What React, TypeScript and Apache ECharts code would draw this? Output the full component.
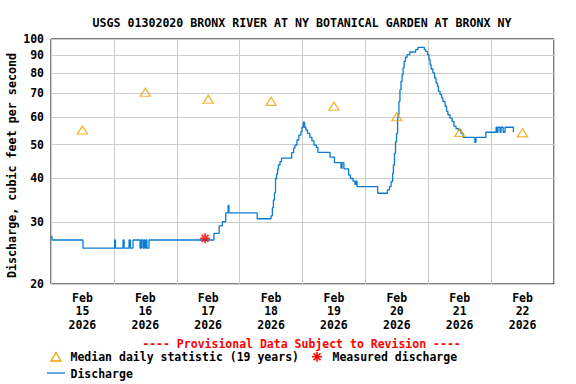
import React, { useEffect, useRef } from "react";
import * as echarts from "echarts";

// Hours since 2026-02-15 00:00 at which the 15-minute discharge changes, and the new value (ft3/s)
const dischargeHours = [
  0, 0.4, 12.2, 24.3, 24.6, 27.5, 27.9, 29.8, 30.3, 31.3, 34.0, 34.5, 35.1, 35.5, 35.9, 36.3, 36.6, 37.4,
  62.2, 64.2, 65.4, 66.7, 67.6, 67.9, 78.7, 84.0, 84.5, 84.9, 85.3, 85.7, 86.1, 86.5, 86.8, 87.4, 88.0,
  91.9, 92.6, 93.1, 93.9, 94.6, 95.4, 95.8, 96.3, 96.8, 97.3, 97.9, 98.8, 99.6, 100.4, 101.3, 101.9,
  106.5, 108.2, 110.7, 111.1, 111.8, 113.6, 114.3, 115.3, 116.0, 116.4, 116.8, 124.7, 128.4, 129.2,
  129.8, 130.4, 130.7, 131.1, 131.5, 131.9, 132.3, 132.5, 132.8, 133.2, 133.6, 134.0, 134.4, 134.8,
  135.3, 135.9, 137.0, 139.2, 140.1, 142.5, 143.0, 143.7, 144.3, 144.7, 145.1, 145.8, 146.4, 147.0,
  147.5, 147.9, 148.5, 149.1, 149.6, 150.4, 151.0, 151.5, 152.3, 153.1, 153.8, 154.6, 155.5, 156.5,
  157.3, 161.8, 162.2, 166.0, 169.9, 170.2, 170.6, 171.4, 171.8, 172.6, 173.3, 176.5,
];
const dischargeCfs = [
  27.3, 26.7, 25.3, 26.7, 25.3, 26.7, 25.3, 26.7, 25.3, 26.7, 25.3, 26.7, 25.3, 26.7, 25.3, 26.7, 25.3, 26.7,
  27.9, 29.3, 30.1, 31.9, 33.5, 31.9, 30.7, 31.3, 33.0, 34.7, 36.4, 40.0, 41.2, 42.5, 43.7, 44.7, 45.7,
  47.4, 48.8, 49.8, 51.5, 53.2, 54.4, 56.0, 57.8, 56.0, 55.0, 53.8, 52.4, 51.2, 49.8, 49.1, 47.5,
  46.0, 44.4, 42.8, 44.4, 42.6, 40.9, 40.0, 39.3, 38.5, 39.3, 37.9, 36.3, 37.1, 37.9,
  39.2, 41.4, 43.7, 47.2, 50.9, 53.8, 58.1, 60.8, 66.4, 71.7, 75.7, 79.1, 82.7, 86.4,
  88.7, 90.2, 91.8, 93.2, 94.7, 93.2, 92.2, 90.2, 87.3, 84.5, 82.1, 80.0, 77.4, 74.9,
  73.3, 70.9, 69.4, 67.9, 66.4, 64.3, 62.2, 60.8, 59.5, 58.2, 56.4, 55.5, 55.0, 53.8,
  52.4, 50.7, 52.4, 54.2, 56.0, 54.2, 56.0, 54.2, 56.0, 54.2, 56.0, 54.2,
];

// Median daily statistic (19 years), plotted at noon of each day
const medianHours = [12, 36, 60, 84, 108, 132, 156, 180];
const medianCfs = [55.0, 70.5, 67.3, 66.4, 64.3, 60.0, 54.1, 54.0];

// Measured discharge
const measuredHours = [58.8];
const measuredCfs = [27.0];

const dayLabels = [
  "Feb\n15\n2026", "Feb\n16\n2026", "Feb\n17\n2026", "Feb\n18\n2026",
  "Feb\n19\n2026", "Feb\n20\n2026", "Feb\n21\n2026", "Feb\n22\n2026",
];
const yTicks = [20, 30, 40, 50, 60, 70, 80, 90, 100];

const FONT = "'DejaVu Sans Mono', monospace";
const BLUE = "#0a7bd0";
const ORANGE = "#f5a000";
const RED = "#ff0000";

const asteriskPath =
  "path://M0,5L10,5M5,0L5,10M1.5,1.5L8.5,8.5M8.5,1.5L1.5,8.5";

export default function App() {
  const ref = useRef<HTMLDivElement>(null);

  useEffect(() => {
    if (!ref.current) return;
    const chart = echarts.init(ref.current, null, { renderer: "svg" });
    const textBase = { fontFamily: FONT, fontWeight: "bold" as const, fontSize: 11.5, color: "#000" };
    const legendFont = `bold 11.5px ${FONT}`;

    const option: any = {
      animation: false,
      backgroundColor: "#fff",
      title: {
        text: "USGS 01302020 BRONX RIVER AT NY BOTANICAL GARDEN AT BRONX NY",
        left: 297,
        textAlign: "center",
        top: 12,
        textStyle: { fontFamily: FONT, fontWeight: "bold", fontSize: 11.6, color: "#000" },
      },
      grid: {
        left: 51,
        right: 22,
        top: 39,
        bottom: 100,
        containLabel: false,
        outerBoundsMode: "none",
        show: true,
        borderColor: "#000",
        borderWidth: 1,
        backgroundColor: "#fff",
      },
      xAxis: [
        {
          type: "value",
          min: 0,
          max: 192,
          interval: 24,
          axisLabel: { show: false },
          axisTick: { show: false },
          axisLine: { show: false },
          splitLine: { show: true, lineStyle: { color: "#cccccc", width: 1 } },
        },
        {
          type: "category",
          data: dayLabels,
          boundaryGap: true,
          position: "bottom",
          axisLine: { show: false },
          axisTick: { show: false },
          splitLine: { show: false },
          axisLabel: { ...textBase, lineHeight: 13.5, margin: 7, interval: 0 },
        },
      ],
      yAxis: {
        type: "log",
        logBase: 10,
        min: 20,
        max: 100,
        name: "Discharge, cubic feet per second",
        nameLocation: "middle",
        nameGap: 33,
        nameMoveOverlap: false,
        nameRotate: 90,
        nameTextStyle: { ...textBase, fontSize: 11.7, padding: [0, 0, 0, -8] },
        axisLine: { show: false },
        axisTick: { show: false, customValues: yTicks },
        axisLabel: { ...textBase, margin: 7, customValues: yTicks },
        splitLine: { show: true, lineStyle: { color: "#cccccc", width: 1 } },
      },
      series: [
        {
          name: "Discharge",
          type: "line",
          xAxisIndex: 0,
          step: "end",
          showSymbol: false,
          symbol: "none",
          lineStyle: { color: BLUE, width: 1.3 },
          data: dischargeHours.map((h, i) => [h, dischargeCfs[i]]),
          z: 3,
        },
        {
          name: "Median daily statistic (19 years)",
          type: "scatter",
          xAxisIndex: 0,
          symbol: "triangle",
          symbolSize: [10, 8],
          itemStyle: { color: "rgba(0,0,0,0)", borderColor: ORANGE, borderWidth: 1.3 },
          data: medianHours.map((h, i) => [h, medianCfs[i]]),
          z: 4,
        },
        {
          name: "Measured discharge",
          type: "scatter",
          xAxisIndex: 0,
          symbol: asteriskPath,
          symbolSize: 10,
          itemStyle: { color: "rgba(0,0,0,0)", borderColor: RED, borderWidth: 1.8 },
          data: measuredHours.map((h, i) => [h, measuredCfs[i]]),
          z: 5,
        },
      ],
      graphic: [
        {
          type: "text",
          x: 301.5,
          y: 343.5,
          style: {
            text: "---- Provisional Data Subject to Revision ----",
            fill: RED,
            font: legendFont,
            textAlign: "center",
            textVerticalAlign: "middle",
          },
        },
        {
          type: "polygon",
          shape: { points: [[51, 361], [61, 361], [56, 352.5]] },
          style: { fill: "none", stroke: ORANGE, lineWidth: 1.3 },
        },
        {
          type: "text",
          x: 70.5,
          y: 357,
          style: {
            text: "Median daily statistic (19 years)",
            fill: "#000",
            font: legendFont,
            textAlign: "left",
            textVerticalAlign: "middle",
          },
        },
        { type: "line", shape: { x1: 312, y1: 356.7, x2: 322, y2: 356.7 }, style: { stroke: RED, lineWidth: 1.6 } },
        { type: "line", shape: { x1: 317, y1: 351.7, x2: 317, y2: 361.7 }, style: { stroke: RED, lineWidth: 1.6 } },
        { type: "line", shape: { x1: 313.5, y1: 353.2, x2: 320.5, y2: 360.2 }, style: { stroke: RED, lineWidth: 1.6 } },
        { type: "line", shape: { x1: 320.5, y1: 353.2, x2: 313.5, y2: 360.2 }, style: { stroke: RED, lineWidth: 1.6 } },
        {
          type: "text",
          x: 332.5,
          y: 357,
          style: {
            text: "Measured discharge",
            fill: "#000",
            font: legendFont,
            textAlign: "left",
            textVerticalAlign: "middle",
          },
        },
        { type: "line", shape: { x1: 47, y1: 373, x2: 65, y2: 373 }, style: { stroke: BLUE, lineWidth: 1.3 } },
        {
          type: "text",
          x: 70.5,
          y: 373.5,
          style: {
            text: "Discharge",
            fill: "#000",
            font: legendFont,
            textAlign: "left",
            textVerticalAlign: "middle",
          },
        },
      ],
    };

    chart.setOption(option);
    return () => chart.dispose();
  }, []);

  return (
    <div
      ref={ref}
      style={{ position: "absolute", left: 0, top: 0, width: 576, height: 384 }}
    />
  );
}
